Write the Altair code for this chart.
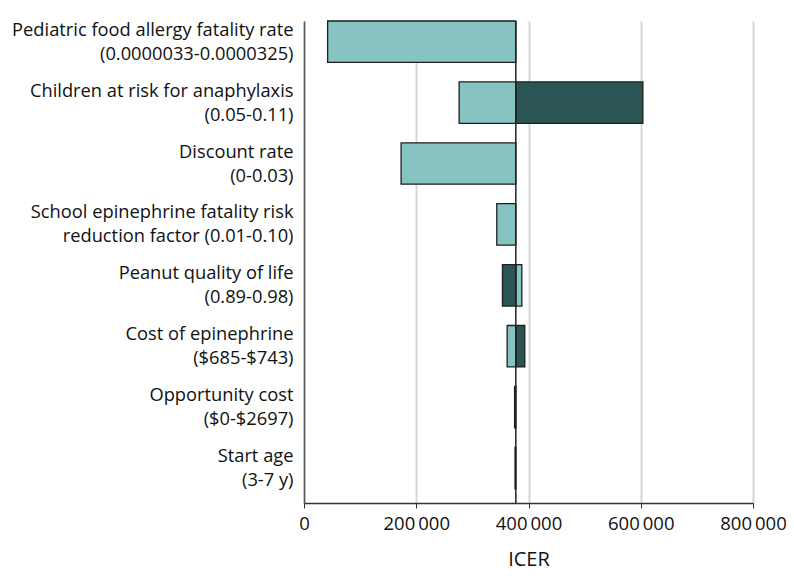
import altair as alt
import pandas as pd

params = [
    "Pediatric food allergy fatality rate\n(0.0000033-0.0000325)",
    "Children at risk for anaphylaxis\n(0.05-0.11)",
    "Discount rate\n(0-0.03)",
    "School epinephrine fatality risk\nreduction factor (0.01-0.10)",
    "Peanut quality of life\n(0.89-0.98)",
    "Cost of epinephrine\n($685-$743)",
    "Opportunity cost\n($0-$2697)",
    "Start age\n(3-7 y)",
]
base_icer = 377400
light_icer = [42100, 276400, 173000, 343500, 388100, 362000, 377400, 377400]
dark_icer = [377400, 603800, 377400, 377400, 353600, 393400, 375200, 376000]
x_ticks = [0, 200000, 400000, 600000, 800000]

rows = []
for p, lv, dv in zip(params, light_icer, dark_icer):
    rows.append({"param": p, "series": "light", "order": 0, "base": base_icer, "icer": lv})
    rows.append({"param": p, "series": "dark", "order": 1, "base": base_icer, "icer": dv})
df = pd.DataFrame(rows)
df = df[df["icer"] != df["base"]]

FONT = "Open Sans"

x_scale = alt.Scale(domain=[0, 800000], nice=False)
y_scale = alt.Scale(paddingInner=0.32, paddingOuter=0.117, align=0)

bars = alt.Chart(df).mark_bar(stroke="#1e1e1e", strokeWidth=1.3).encode(
    x=alt.X("base:Q", scale=x_scale,
            axis=alt.Axis(values=x_ticks, title="ICER", grid=True, gridColor="#d6d6d6", gridWidth=2,
                          tickSize=5, tickColor="#333333", domainColor="#333333", domainWidth=1.5,
                          labelFontSize=18.5, labelFont=FONT, labelColor="#111111", labelPadding=6,
                          labelFlush=False, labelOverlap=False,
                          labelExpr="replace(format(datum.value, ','), ',', '\u2009')",
                          titleFont=FONT, titleFontSize=20, titleFontWeight="normal",
                          titleColor="#111111", titlePadding=17)),
    x2="icer:Q",
    y=alt.Y("param:N", sort=params, scale=y_scale,
            axis=alt.Axis(title=None, ticks=False, domainColor="#555555", domainWidth=1.5,
                          labelFont=FONT, labelFontSize=18.3, labelColor="#111111",
                          labelLimit=400, labelPadding=11, labelLineHeight=24, labelOffset=-11,
                          labelExpr="split(datum.label, '\\n')")),
    color=alt.Color("series:N", scale=alt.Scale(domain=["light", "dark"], range=["#86c3c1", "#2b5554"]),
                    legend=None),
    order=alt.Order("order:Q"),
)

base_df = pd.DataFrame({"base": [base_icer]})
base_line = alt.Chart(base_df).mark_rule(color="#222222", strokeWidth=1.5).encode(
    x=alt.X("base:Q", scale=x_scale)
)

chart = alt.layer(bars, base_line).properties(
    width=449, height=482,
    autosize=alt.AutoSizeParams(type="none"),
    padding={"left": 296, "top": 13, "right": 33, "bottom": 76},
).configure_view(stroke=None)

chart.save("out.html", embed_options={"renderer": "svg", "actions": False})
